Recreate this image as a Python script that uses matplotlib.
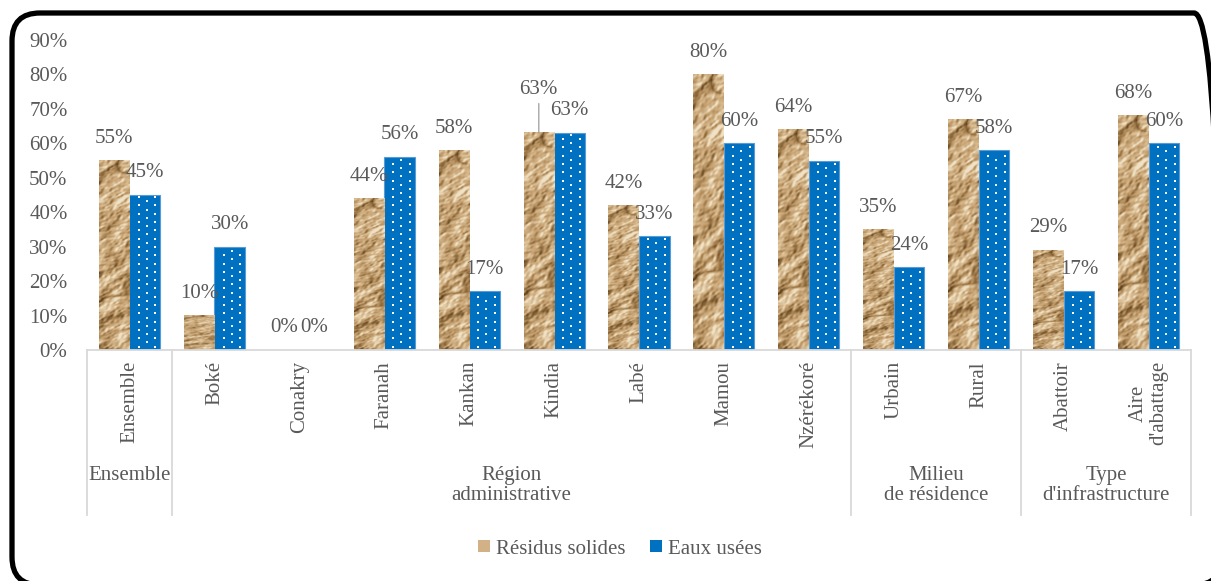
import numpy as np
import matplotlib
matplotlib.use("Agg")
import matplotlib.pyplot as plt
from matplotlib.patches import FancyBboxPatch, Patch
from matplotlib.lines import Line2D
from matplotlib.colors import LinearSegmentedColormap
from matplotlib import transforms

plt.rcParams['font.family'] = ['Liberation Serif', 'DejaVu Serif']

# données
categories = ["Ensemble", "Boké", "Conakry", "Faranah", "Kankan", "Kindia", "Labé",
              "Mamou", "Nzérékoré", "Urbain", "Rural", "Abattoir", "Aire\nd'abattage"]
groupes = ["Ensemble", "Région\nadministrative", "Milieu\nde résidence", "Type\nd'infrastructure"]
groupe_bornes = [(0, 0), (1, 8), (9, 10), (11, 12)]
residus_solides = [55, 10, 0, 44, 58, 63, 42, 80, 64, 35, 67, 29, 68]
eaux_usees = [45, 30, 0, 56, 17, 63, 33, 60, 55, 24, 58, 17, 60]
series = ["Résidus solides", "Eaux usées"]

GRIS = '#595959'
TRAIT = '#D9D9D9'
BLEU = '#0070C0'
FS = 15
W, H = 1211, 581


def texture_roche(h=280, w=34):
    # bruit de valeur déterministe (hash en sinus) + relief éclairé + fissures
    yy, xx = np.mgrid[0:h, 0:w].astype(float)

    def vn(cell, graine):
        gy = yy / cell
        gx = (xx + 0.3 * yy) / cell
        i, j = np.floor(gy), np.floor(gx)
        fy, fx = gy - i, gx - j
        sy, sx = fy * fy * (3 - 2 * fy), fx * fx * (3 - 2 * fx)

        def hh(a, b):
            v = np.sin(a * 127.1 + b * 311.7 + graine * 74.7) * 43758.5453
            return v - np.floor(v)
        return ((hh(i, j) * (1 - sx) + hh(i, j + 1) * sx) * (1 - sy)
                + (hh(i + 1, j) * (1 - sx) + hh(i + 1, j + 1) * sx) * sy)

    haut = (0.5 * vn(50, 1) + 0.25 * vn(25, 2) + 0.13 * vn(12, 3)
            + 0.07 * vn(6, 4) + 0.05 * vn(3, 5))
    dy, dx_ = np.gradient(haut)
    relief = -(dx_ * 0.9 + dy * 0.5) * 18
    crete = 1 - np.abs(2 * vn(38, 7) - 1)
    fente = crete ** 12 * np.clip((vn(70, 8) - 0.35) * 3, 0, 1)
    ton = np.clip(0.7 + 0.5 * (haut - 0.5) + relief - 0.5 * fente, 0, 1)
    cmap = LinearSegmentedColormap.from_list(
        'roche', [(0.0, '#5A3E1E'), (0.35, '#9C7848'), (0.6, '#C6A273'),
                  (0.8, '#D9BD93'), (1.0, '#F0E2C6')])
    return cmap(ton)[..., :3]


fig = plt.figure(figsize=(W / 100, H / 100), dpi=100)

# fond avec cadre arrondi, en pixels (origine en bas)
bg = fig.add_axes([0, 0, 1, 1], zorder=-1)
bg.set_xlim(0, W)
bg.set_ylim(0, H)
bg.axis('off')
bg.add_patch(FancyBboxPatch((12, H - 585), 1210, 572, boxstyle="round,pad=0,rounding_size=28",
                            fill=False, ec='black', lw=3.8, clip_on=False))

ax = fig.add_axes([87 / W, 1 - 350 / H, (1191 - 87) / W, 310 / H])
ax.set_facecolor('none')

x = np.arange(len(categories))
largeur = 0.36
dx = 0.18

# barres "Résidus solides" (texture étirée dans chaque barre)
tex = texture_roche()
barres_r = ax.bar(x - dx, np.array(residus_solides) / 100, largeur, color='#C9A679',
                  label=series[0], zorder=2)
for b in barres_r:
    if b.get_height() > 0:
        ax.imshow(tex, extent=(b.get_x(), b.get_x() + b.get_width(), 0, b.get_height()),
                  aspect='auto', interpolation='bilinear', zorder=3)

# barres "Eaux usées" (bleu pointillé)
barres_e = ax.bar(x + dx, np.array(eaux_usees) / 100, largeur, color=BLEU,
                  edgecolor='#5B9BD5', linewidth=0.8, label=series[1], zorder=2)
pas = 0.0241
for b in barres_e:
    h = b.get_height()
    if h <= 0:
        continue
    rangs = np.arange(0.010, h - 0.006, pas)
    x0, w = b.get_x(), b.get_width()
    for f in (0.3, 0.85):
        ax.scatter(np.full(len(rangs), x0 + f * w), rangs, s=4.5, marker='s',
                   color='white', linewidths=0, zorder=4)
    mid = rangs[rangs + pas / 2 < h - 0.004] + pas / 2
    ax.scatter(np.full(len(mid), x0 + 0.56 * w), mid, s=2.5, marker='s',
               color='white', linewidths=0, alpha=0.9, zorder=4)

ax.set_xlim(-0.5, len(categories) - 0.5)
ax.set_ylim(0, 0.9)

# étiquettes de valeurs
for i, v in enumerate(residus_solides):
    if categories[i] == "Kindia":
        ax.annotate(f"{v}%", (x[i] - dx, v / 100), xytext=(0, 31), textcoords='offset points',
                    ha='center', va='center', fontsize=FS, color=GRIS,
                    arrowprops=dict(arrowstyle='-', color='#A6A6A6', lw=1, shrinkA=1, shrinkB=0))
    else:
        ax.annotate(f"{v}%", (x[i] - dx, v / 100), xytext=(0, 16), textcoords='offset points',
                    ha='center', va='center', fontsize=FS, color=GRIS)
for i, v in enumerate(eaux_usees):
    ax.annotate(f"{v}%", (x[i] + dx, v / 100), xytext=(0, 16), textcoords='offset points',
                ha='center', va='center', fontsize=FS, color=GRIS)

# axes
yt = np.arange(0, 0.91, 0.1)
ax.set_yticks(yt)
ax.set_yticklabels([f"{int(round(t * 100))}%" for t in yt])
ax.tick_params(axis='y', length=0, pad=14, labelsize=FS, labelcolor=GRIS)
ax.set_xticks([])
for s in ('top', 'right', 'left'):
    ax.spines[s].set_visible(False)
ax.spines['bottom'].set_color(TRAIT)
ax.spines['bottom'].set_linewidth(1.3)
ax.spines['bottom'].set_zorder(5)

# axe des catégories à deux niveaux (y en pixels depuis le haut)
tr = transforms.blended_transform_factory(ax.transData, bg.transData)
for i, c in enumerate(categories):
    fig.text(x[i], H - 361, c, transform=tr, rotation=90, ha='center', va='top',
             multialignment='center', fontsize=FS, color=GRIS, linespacing=1.05)
for g, (a, b) in zip(groupes, groupe_bornes):
    fig.text((a + b) / 2, H - 466, g, transform=tr, ha='center', va='top',
             fontsize=FS, color=GRIS, linespacing=1.1)
bornes = [groupe_bornes[0][0] - 0.5] + [b + 0.5 for _, b in groupe_bornes]
for xb in bornes:
    fig.add_artist(Line2D([xb, xb], [H - 350, H - 515], transform=tr, color=TRAIT, lw=1.3))

# légende
poignees = [Patch(facecolor='#D2B186', edgecolor='none'), Patch(facecolor=BLEU, edgecolor='none')]
leg = fig.legend(poignees, series, loc='center', bbox_to_anchor=(620 / W, 1 - 549 / H), ncol=2,
                 frameon=False, fontsize=FS, labelcolor=GRIS,
                 handlelength=0.55, handleheight=0.55, handletextpad=0.3, columnspacing=1.2)
for t in leg.get_texts():
    t.set_fontfamily(['Liberation Serif', 'DejaVu Serif'])

fig.savefig("out.png", dpi=100)
